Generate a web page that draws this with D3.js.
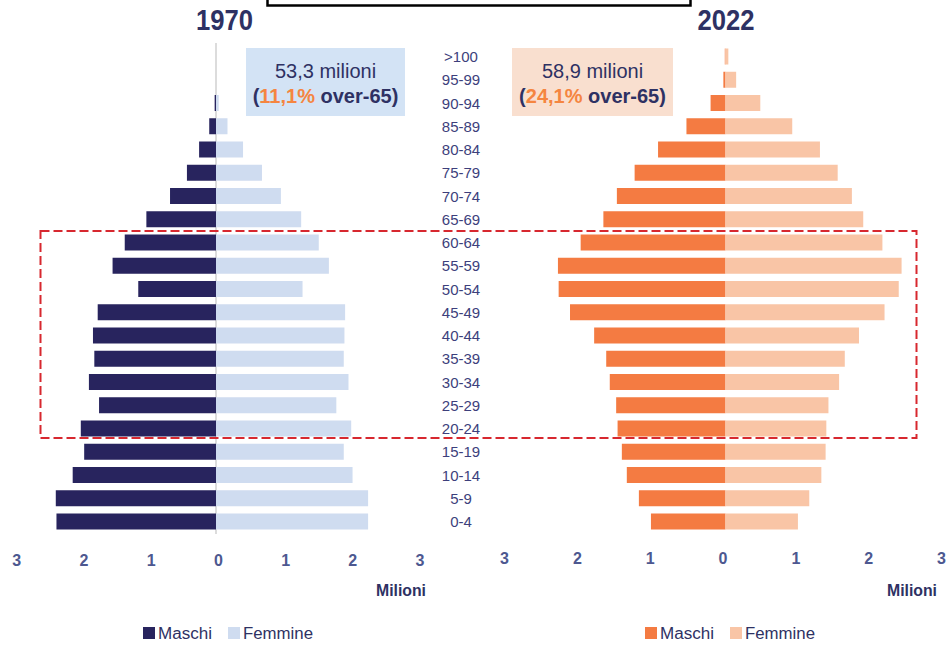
<!DOCTYPE html>
<html>
<head>
<meta charset="utf-8">
<script src="https://cdn.jsdelivr.net/npm/d3@7"></script>
<style>
  html, body { margin: 0; padding: 0; background: #fff; }
  svg { display: block; font-family: "Liberation Sans", Arial, sans-serif; }
</style>
</head>
<body>
<svg id="chart" width="948" height="649"></svg>
<script>
// ---- data (millions) ----
const ages = [">100","95-99","90-94","85-89","80-84","75-79","70-74","65-69","60-64","55-59",
              "50-54","45-49","40-44","35-39","30-34","25-29","20-24","15-19","10-14","5-9","0-4"];
const male1970   = [0, 0, 0.02, 0.10, 0.25, 0.43, 0.68, 1.03, 1.35, 1.53, 1.15, 1.75, 1.82, 1.80, 1.88, 1.73, 2.00, 1.95, 2.12, 2.37, 2.36];
const female1970 = [0, 0, 0.04, 0.17, 0.40, 0.68, 0.96, 1.26, 1.52, 1.67, 1.28, 1.91, 1.90, 1.89, 1.96, 1.78, 2.00, 1.89, 2.02, 2.25, 2.25];
const male2022   = [0.01, 0.03, 0.21, 0.55, 0.95, 1.28, 1.53, 1.72, 2.04, 2.36, 2.35, 2.19, 1.85, 1.68, 1.63, 1.54, 1.52, 1.46, 1.39, 1.22, 1.05];
const female2022 = [0.04, 0.15, 0.49, 0.94, 1.33, 1.58, 1.78, 1.94, 2.21, 2.48, 2.44, 2.24, 1.88, 1.68, 1.60, 1.45, 1.42, 1.41, 1.35, 1.18, 1.02];
const tickValues = [-3, -2, -1, 0, 1, 2, 3];
const years = ["1970", "2022"];
const totals = ["53,3 milioni", "58,9 milioni"];
const over65 = ["11,1%", "24,1%"];
const legendLabels = ["Maschi", "Femmine"];
const unitLabel = "Milioni";

// ---- styles ----
const navy = "#2e3163";
const orangeTxt = "#f58540";
const panels = [
  { year: years[0], male: male1970, female: female1970, total: totals[0], pct: over65[0],
    cMale: "#28245e", cFemale: "#cfdcf0", boxFill: "#d3e3f5",
    range: [13.2, 418.8], axisRange: [16.3, 419.5], axisY: 555, unitX: 426,
    box: [246, 48, 159, 68], legendX: 143, titleX: 224.5, axisLine: true },
  { year: years[1], male: male2022, female: female2022, total: totals[1], pct: over65[1],
    cMale: "#f47b42", cFemale: "#f9c5a6", boxFill: "#f9dfcf",
    range: [512.5, 938.5], axisRange: [504, 941], axisY: 553, unitX: 937,
    box: [512, 48, 161, 68], legendX: 645, titleX: 726, axisLine: false }
];

const svg = d3.select("#chart");
const y = d3.scalePoint().domain(ages).range([56.5, 521.5]);
const barH = 16;

panels.forEach(p => {
  const x = d3.scaleLinear().domain([-3, 3]).range(p.range);
  const xa = d3.scaleLinear().domain([-3, 3]).range(p.axisRange);
  const g = svg.append("g");

  if (p.axisLine) {
    g.append("line").attr("x1", x(0)).attr("x2", x(0)).attr("y1", 43).attr("y2", 534)
      .attr("stroke", "#dcdcdc").attr("stroke-width", 2);
  }

  // bars
  g.selectAll(".m").data(ages).enter().append("rect")
    .attr("x", (d, i) => x(-p.male[i]))
    .attr("y", d => y(d) - barH / 2)
    .attr("width", (d, i) => x(0) - x(-p.male[i]))
    .attr("height", barH)
    .attr("fill", p.cMale);
  g.selectAll(".f").data(ages).enter().append("rect")
    .attr("x", x(0))
    .attr("y", d => y(d) - barH / 2)
    .attr("width", (d, i) => x(p.female[i]) - x(0))
    .attr("height", barH)
    .attr("fill", p.cFemale);

  // axis
  const axis = d3.axisBottom(xa).tickValues(tickValues).tickFormat(d => Math.abs(d))
    .tickSize(0).tickPadding(0);
  const ag = svg.append("g").attr("transform", `translate(0,${p.axisY})`).call(axis);
  ag.select(".domain").remove();
  ag.selectAll("text").attr("font-size", 16).attr("font-weight", "bold")
    .attr("fill", "#4d5890").attr("font-family", "Liberation Sans, Arial, sans-serif");

  svg.append("text").attr("x", p.unitX).attr("y", 596)
    .attr("text-anchor", "end").attr("font-size", 16).attr("font-weight", "bold")
    .attr("textLength", 50).attr("lengthAdjust", "spacingAndGlyphs")
    .attr("fill", navy).text(unitLabel);

  // title
  svg.append("text").attr("x", p.titleX).attr("y", 30).attr("text-anchor", "middle")
    .attr("font-size", 30).attr("font-weight", "bold").attr("fill", navy)
    .attr("textLength", 57).attr("lengthAdjust", "spacingAndGlyphs").text(p.year);

  // info box
  const [bx, by, bw, bh] = p.box;
  svg.append("rect").attr("x", bx).attr("y", by).attr("width", bw).attr("height", bh)
    .attr("fill", p.boxFill);
  svg.append("text").attr("x", bx + bw / 2).attr("y", 78).attr("text-anchor", "middle")
    .attr("font-size", 20).attr("fill", navy).text(p.total);
  const t2 = svg.append("text").attr("x", bx + bw / 2).attr("y", 103).attr("text-anchor", "middle")
    .attr("font-size", 20).attr("font-weight", "bold").attr("fill", navy);
  t2.append("tspan").text("(");
  t2.append("tspan").attr("fill", orangeTxt).text(p.pct);
  t2.append("tspan").text(" over-65)");

  // legend
  const lg = svg.append("g").attr("transform", `translate(${p.legendX},627)`);
  lg.append("rect").attr("width", 12).attr("height", 12).attr("fill", p.cMale);
  lg.append("text").attr("x", 15).attr("y", 12).attr("font-size", 16).attr("fill", navy)
    .attr("textLength", 54).attr("lengthAdjust", "spacingAndGlyphs").text(legendLabels[0]);
  lg.append("rect").attr("x", 85).attr("width", 12).attr("height", 12).attr("fill", p.cFemale);
  lg.append("text").attr("x", 100).attr("y", 12).attr("font-size", 16).attr("fill", navy)
    .attr("textLength", 70).attr("lengthAdjust", "spacingAndGlyphs").text(legendLabels[1]);
});

// age labels
svg.append("g").selectAll("text").data(ages).enter().append("text")
  .attr("x", 461).attr("y", d => y(d) + 5.5).attr("text-anchor", "middle")
  .attr("font-size", 15).attr("fill", "#3d3f7c").text(d => d);

// dashed highlight (20-64)
svg.append("rect")
  .attr("x", 40.5).attr("y", y("60-64") - 11.5)
  .attr("width", 876).attr("height", y("20-24") - y("60-64") + 21)
  .attr("fill", "none").attr("stroke", "#d7282f").attr("stroke-width", 2)
  .attr("stroke-dasharray", "9,4");

// top black frame (cut off)
svg.append("rect").attr("x", 267.5).attr("y", -10).attr("width", 423).attr("height", 15.5)
  .attr("fill", "none").attr("stroke", "#000").attr("stroke-width", 2.5);
</script>
</body>
</html>
